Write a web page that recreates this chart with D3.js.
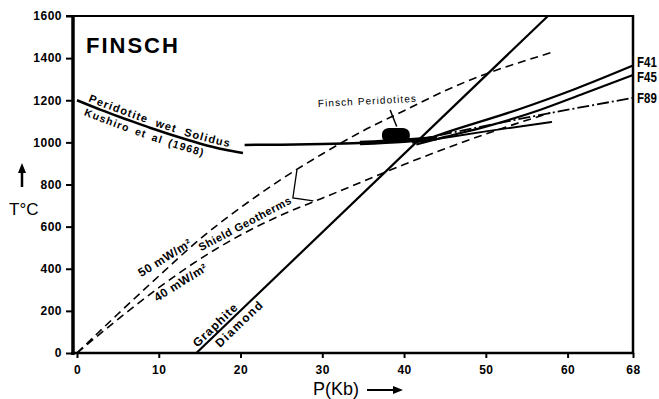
<!DOCTYPE html>
<html>
<head>
<meta charset="utf-8">
<script src="https://cdn.jsdelivr.net/npm/d3@7"></script>
<style>
  body { margin: 0; background: #fff; }
  svg text { font-family: "Liberation Sans", Arial, sans-serif; fill: #000; }
</style>
</head>
<body>
<script>
// tick values
const pressureTicks = [0, 10, 20, 30, 40, 50, 60, 68];
const tempTicks = [0, 200, 400, 600, 800, 1000, 1200, 1400, 1600];

// curves, pressure in Kb and temperature in deg C
const wetSolidusP = [0, 3, 6, 9, 12, 15, 18, 20.3];
const wetSolidusT = [1200, 1153, 1110, 1068, 1030, 995, 966, 950];

const dryLineP = [20.5, 25, 30, 34.6, 40, 44];
const dryLineT = [988, 989, 992, 997, 1008, 1021];

const graphiteDiamondP = [14.6, 57.6];
const graphiteDiamondT = [0, 1600];

const geotherm50P = [0, 5, 10, 15, 20, 25, 30, 35, 40, 45, 50, 55, 58.2];
const geotherm50T = [0, 185, 365, 540, 690, 825, 945, 1055, 1150, 1245, 1325, 1390, 1429];

const geotherm40P = [0, 5, 10, 15, 20, 25, 30, 35, 40, 45, 50, 55, 57.9];
const geotherm40T = [0, 160, 310, 445, 560, 655, 735, 815, 895, 970, 1040, 1105, 1140];

const f41P = [42, 45, 53.8, 61, 68];
const f41T = [1005, 1045, 1154, 1255, 1365];
const f45P = [41.5, 45, 50, 56.6, 62, 68];
const f45T = [990, 1026, 1075, 1154, 1232, 1320];
const f89P = [42, 50.5, 59.9, 68];
const f89T = [1015, 1083, 1154, 1211];
const lowerP = [41, 43.2, 50, 58.1];
const lowerT = [998, 1011, 1052, 1097];

// Finsch peridotite field
const finschP = [37.3, 40.7];
const finschT = [1000, 1068];

const width = 659, height = 399;

const svg = d3.select('body').append('svg')
    .attr('width', width)
    .attr('height', height);

const x = d3.scaleLinear().domain([0, 68]).range([77, 633]);
const y = d3.scaleLinear().domain([0, 1600]).range([353, 16]);

const zip = (P, T) => P.map((p, i) => [p, T[i]]);
const line = (dy = 0) => d3.line()
    .x(d => x(d[0]))
    .y(d => y(d[1]) + dy)
    .curve(d3.curveMonotoneX);

// frame
svg.append('line').attr('x1', 66).attr('x2', 634).attr('y1', 16).attr('y2', 16)
    .attr('stroke', '#000').attr('stroke-width', 2);
svg.append('line').attr('x1', 633).attr('x2', 633).attr('y1', 15).attr('y2', 354)
    .attr('stroke', '#000').attr('stroke-width', 2.5);
svg.append('line').attr('x1', 71).attr('x2', 634).attr('y1', 353).attr('y2', 353)
    .attr('stroke', '#000').attr('stroke-width', 2.5);
svg.append('line').attr('x1', 73).attr('x2', 73).attr('y1', 15).attr('y2', 355)
    .attr('stroke', '#000').attr('stroke-width', 3.5);

// axes
const yAxis = d3.axisLeft(y).tickValues(tempTicks).tickFormat(d3.format('d'))
    .tickSize(6).tickPadding(4);
svg.append('g')
    .attr('transform', 'translate(72,0)')
    .call(yAxis)
    .call(g => g.select('.domain').remove())
    .call(g => g.selectAll('line').attr('stroke-width', 2))
    .call(g => g.selectAll('text')
        .attr('font-size', 12)
        .attr('font-weight', 'bold')
        .style('letter-spacing', '0.5px'));

const xAxis = d3.axisBottom(x).tickValues(pressureTicks).tickFormat(d3.format('d'))
    .tickSize(5).tickPadding(7);
svg.append('g')
    .attr('transform', 'translate(0,353)')
    .call(xAxis)
    .call(g => g.select('.domain').remove())
    .call(g => g.selectAll('line').attr('stroke-width', 2))
    .call(g => g.selectAll('text')
        .attr('font-size', 12)
        .attr('font-weight', 'bold')
        .style('letter-spacing', '0.5px'));

// axis titles
svg.append('text').attr('x', 9).attr('y', 215)
    .attr('font-size', 17).text('T°C');
svg.append('line').attr('x1', 22).attr('x2', 22).attr('y1', 187).attr('y2', 170)
    .attr('stroke', '#000').attr('stroke-width', 2.5);
svg.append('path').attr('d', 'M22,163 L18,173 L26,173 Z').attr('fill', '#000');

svg.append('text').attr('x', 313).attr('y', 395)
    .attr('font-size', 18).text('P(Kb)');
svg.append('line').attr('x1', 367).attr('x2', 396).attr('y1', 390).attr('y2', 390)
    .attr('stroke', '#000').attr('stroke-width', 2);
svg.append('path').attr('d', 'M403,390 L393,386 L393,394 Z').attr('fill', '#000');

// title
svg.append('text').attr('x', 86).attr('y', 53)
    .attr('font-size', 22).attr('font-weight', 'bold')
    .style('letter-spacing', '2px')
    .text('FINSCH');

// curves
const curves = [
  { P: geotherm50P, T: geotherm50T, w: 1.6, dash: '8,5' },
  { P: geotherm40P, T: geotherm40T, w: 1.6, dash: '8,5' },
  { P: graphiteDiamondP, T: graphiteDiamondT, w: 2.2 },
  { P: wetSolidusP, T: wetSolidusT, w: 2.5 },
  { P: dryLineP, T: dryLineT, w: 2.5 },
  { P: f41P, T: f41T, w: 2.2 },
  { P: f45P, T: f45T, w: 2.2 },
  { P: f89P, T: f89T, w: 1.8, dash: '12,3,2,3' },
  { P: lowerP, T: lowerT, w: 1.8 }
];

svg.selectAll('path.curve')
    .data(curves)
    .enter()
    .append('path')
    .attr('class', 'curve')
    .attr('d', d => line()(zip(d.P, d.T)))
    .attr('fill', 'none')
    .attr('stroke', '#000')
    .attr('stroke-width', d => d.w)
    .attr('stroke-dasharray', d => d.dash || null);

// thicker stretch of the solidus near the peridotites
svg.append('path')
    .attr('d', line()(zip(dryLineP, dryLineT).filter(d => d[0] >= 34)))
    .attr('fill', 'none')
    .attr('stroke', '#000')
    .attr('stroke-width', 4.5);

// Finsch peridotites
svg.append('rect')
    .attr('x', x(finschP[0]))
    .attr('y', y(finschT[1]))
    .attr('width', x(finschP[1]) - x(finschP[0]))
    .attr('height', y(finschT[0]) - y(finschT[1]))
    .attr('rx', 7).attr('ry', 6)
    .attr('fill', '#000');
svg.append('line')
    .attr('x1', x(38.3)).attr('y1', y(1154))
    .attr('x2', x(39.1)).attr('y2', y(1075))
    .attr('stroke', '#000').attr('stroke-width', 1.5);
svg.append('text')
    .attr('transform', `translate(318,107) rotate(-3)`)
    .attr('font-size', 10)
    .style('letter-spacing', '1.1px')
    .text('Finsch Peridotites');

// labels along the wet solidus
const defs = svg.append('defs');
defs.append('path').attr('id', 'solUp').attr('d', line(-3.5)(zip(wetSolidusP, wetSolidusT)));
defs.append('path').attr('id', 'solDown').attr('d', line(12)(zip(wetSolidusP, wetSolidusT)));

svg.append('text')
    .attr('font-size', 11).attr('font-weight', 'bold')
    .style('letter-spacing', '1.2px').style('word-spacing', '4px')
    .append('textPath').attr('href', '#solUp').attr('startOffset', 12)
    .text('Peridotite wet Solidus');
svg.append('text')
    .attr('font-size', 10.5).attr('font-weight', 'bold')
    .style('letter-spacing', '1.2px').style('word-spacing', '2px')
    .append('textPath').attr('href', '#solDown').attr('startOffset', 7)
    .text('Kushiro et al (1968)');

// graphite / diamond labels
const gd = d3.scaleLinear().domain(graphiteDiamondP).range(graphiteDiamondT);
const gdAngle = Math.atan2(y(graphiteDiamondT[1]) - y(graphiteDiamondT[0]),
                           x(graphiteDiamondP[1]) - x(graphiteDiamondP[0]));
const nx = -Math.sin(gdAngle), ny = Math.cos(gdAngle); // normal pointing down-right
const deg = gdAngle * 180 / Math.PI;

svg.append('text')
    .attr('transform', `translate(${x(15.0) - 3 * nx},${y(gd(15.0)) - 3 * ny}) rotate(${deg})`)
    .attr('font-size', 12).attr('font-weight', 'bold')
    .style('letter-spacing', '1px')
    .text('Graphite');
svg.append('text')
    .attr('transform', `translate(${x(16.4) + 12.7 * nx},${y(gd(16.4)) + 12.7 * ny}) rotate(${deg})`)
    .attr('font-size', 12).attr('font-weight', 'bold')
    .style('letter-spacing', '1.5px')
    .text('Diamond');

// shield geotherm labels
const midLabel = (p, t, angle, size, spacing, txt) => svg.append('text')
    .attr('transform', `translate(${x(p)},${y(t)}) rotate(${angle})`)
    .attr('text-anchor', 'middle')
    .attr('dominant-baseline', 'central')
    .attr('font-size', size).attr('font-weight', 'bold')
    .style('letter-spacing', spacing)
    .text(txt);

midLabel(10.76, 452, -32, 12, '0.5px', '50 mW/m²');
midLabel(12.7, 335, -32, 12, '0.5px', '40 mW/m²');
midLabel(20.55, 615, -28, 11, '0.6px', 'Shield Geotherms');

svg.append('path')
    .attr('d', `M${x(26.9)},${y(869)} L${x(26.4)},${y(736)} L${x(28.9)},${y(722)}`)
    .attr('fill', 'none').attr('stroke', '#000').attr('stroke-width', 1.3);

// curve end labels
const endLabels = [['F41', 67], ['F45', 82], ['F89', 103]];
svg.selectAll('text.end')
    .data(endLabels)
    .enter()
    .append('text')
    .attr('class', 'end')
    .attr('transform', d => `translate(637,${d[1]}) scale(0.82,1)`)
    .attr('font-size', 14)
    .attr('font-weight', 'bold')
    .text(d => d[0]);
</script>
</body>
</html>
